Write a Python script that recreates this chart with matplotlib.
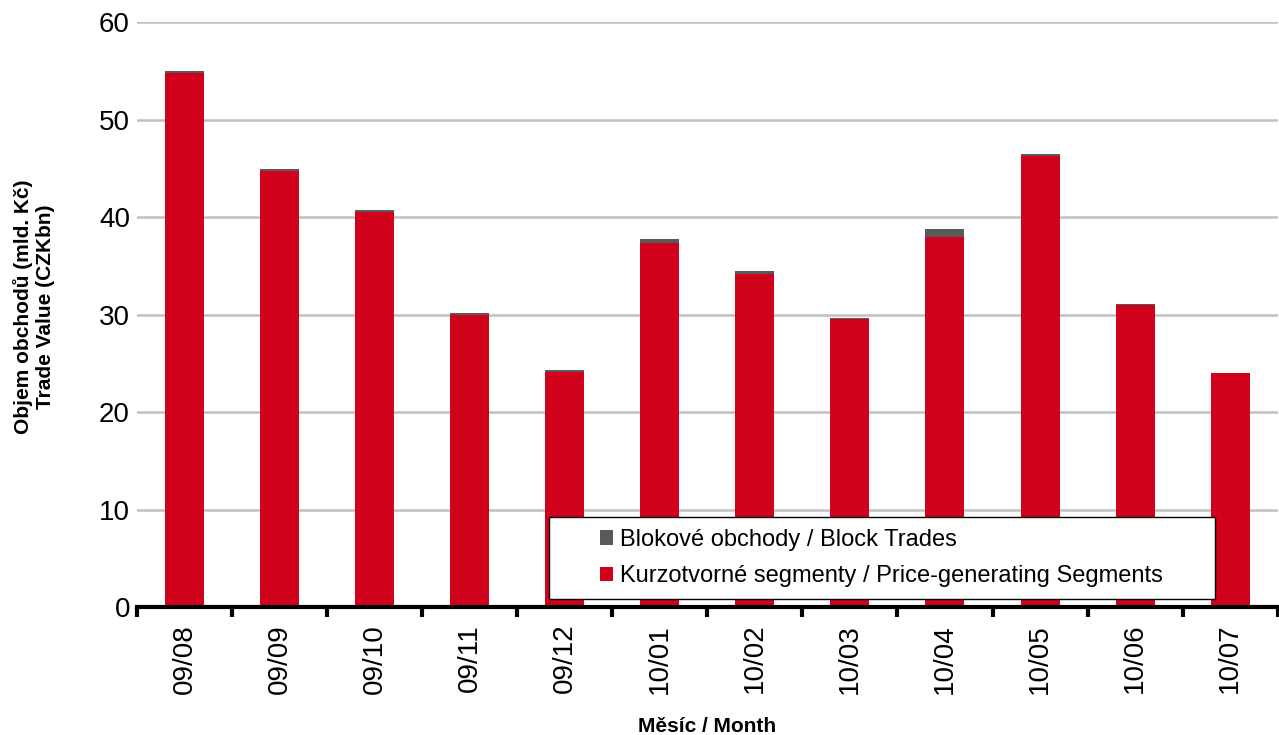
import numpy as np
import matplotlib.pyplot as plt
from matplotlib.patches import Rectangle

plt.rcParams['font.family'] = ['Liberation Sans', 'DejaVu Sans']

months = ['09/08', '09/09', '09/10', '09/11', '09/12', '10/01',
          '10/02', '10/03', '10/04', '10/05', '10/06', '10/07']
price_gen = [54.8, 44.7, 40.5, 30.0, 24.1, 37.3, 34.2, 29.5, 37.95, 46.3, 31.0, 24.0]
block = [0.2, 0.2, 0.2, 0.2, 0.2, 0.4, 0.3, 0.15, 0.8, 0.15, 0.05, 0.05]

red = '#D0021B'
grey = '#595959'

fig = plt.figure(figsize=(12.79, 7.35), dpi=100)
ax = fig.add_axes([0.107, 0.174, 0.892, 0.796])

x = np.arange(len(months))
ax.bar(x, price_gen, width=0.41, color=red, label='Kurzotvorné segmenty / Price-generating Segments', zorder=3)
ax.bar(x, block, width=0.41, bottom=price_gen, color=grey, label='Blokové obchody / Block Trades', zorder=3)

ax.set_xlim(-0.5, len(months) - 0.5)
ax.set_ylim(0, 60)
ax.set_yticks(range(0, 61, 10))
ax.yaxis.grid(True, color='#c0c0c0', linewidth=1.8, zorder=0)
ax.tick_params(axis='y', length=0, labelsize=20, pad=5)

# tick marks between categories, labels centred under bars
ax.set_xticks(np.arange(-0.5, len(months), 1.0))
ax.set_xticklabels([])
ax.set_xticks(x, minor=True)
ax.set_xticklabels(months, minor=True, rotation=90, fontsize=20)
ax.tick_params(axis='x', which='major', direction='out', length=7, width=3, color='black')
ax.tick_params(axis='x', which='minor', length=0, pad=12)

for s in ['top', 'right', 'left']:
    ax.spines[s].set_visible(False)
ax.spines['bottom'].set_linewidth(3)
ax.spines['bottom'].set_zorder(4)

ax.set_ylabel('Objem obchodů (mld. Kč)\nTrade Value (CZKbn)', fontsize=15, fontweight='bold')
ax.yaxis.set_label_coords(-0.072, 0.513)
ax.set_xlabel('Měsíc / Month', fontsize=15, fontweight='bold', labelpad=17)

# legend box
box = Rectangle((0.361, 0.0137), 0.584, 0.140, transform=ax.transAxes,
                facecolor='white', edgecolor='black', linewidth=1, zorder=5)
ax.add_patch(box)

h, l = ax.get_legend_handles_labels()
leg = ax.legend(h[::-1], l[::-1], loc='center left', bbox_to_anchor=(0.406, 0.084),
                fontsize=17, frameon=False, handlelength=0.55, handleheight=0.55,
                handletextpad=0.3, borderpad=0, labelspacing=0.6, borderaxespad=0)
leg.set_zorder(6)

fig.savefig('out.png', dpi=100)
